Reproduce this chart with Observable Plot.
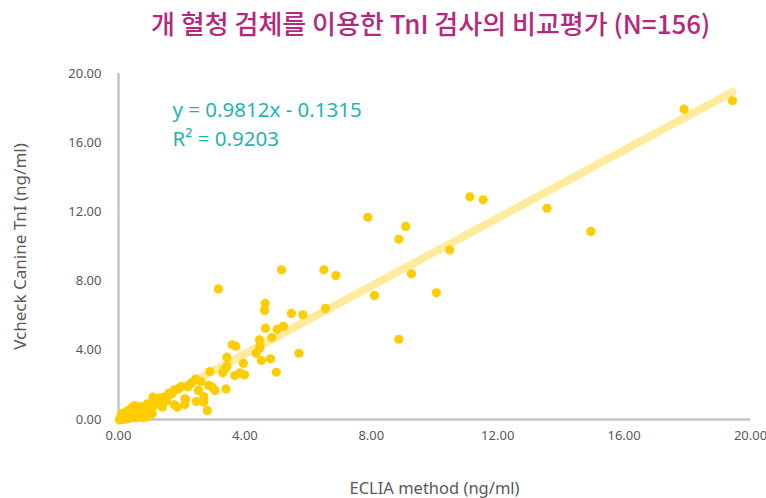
<!DOCTYPE html>
<html>
<head>
<meta charset="utf-8">
<script src="https://cdn.jsdelivr.net/npm/d3@7"></script>
<script src="https://cdn.jsdelivr.net/npm/@observablehq/plot@0.6"></script>
<style>
  html, body { margin: 0; padding: 0; background: #fff; }
  #wrap { width: 766px; height: 498px; position: relative; overflow: hidden; }
  #title { height: 45px; line-height: 46px; padding-left: 151px; font-family: "Noto Sans CJK KR", "Noto Sans", sans-serif; font-size: 26px; font-weight: 500; color: #b5287e; white-space: nowrap; }
</style>
</head>
<body>
<div id="wrap">
  <div id="title"></div>
  <div id="chart"></div>
</div>
<script>
const titleText = "개 혈청 검체를 이용한 TnI 검사의 비교평가 (N=156)";
const xLabel = "ECLIA method (ng/ml)";
const yLabel = "Vcheck Canine TnI (ng/ml)";
const tickValues = [0, 4, 8, 12, 16, 20];
const slope = 0.9812;
const intercept = -0.1315;
const equationLine = "y = 0.9812x - 0.1315";
const r2Line = "R² = 0.9203";

// ECLIA method values (x)
const eclia = [
  19.43, 17.90, 11.12, 11.54, 13.56, 14.95, 7.89, 9.09, 8.87, 10.48,
  9.27, 10.06, 8.10, 8.87, 6.50, 6.88, 5.16, 3.16, 6.55, 4.64,
  4.62, 5.47, 5.83, 4.65, 5.02, 5.22, 4.85, 4.46, 4.48, 4.46,
  4.35, 5.71, 3.60, 3.71, 3.43, 4.52, 4.81, 3.95, 3.43, 3.37,
  3.30, 2.89, 3.68, 3.84, 3.99, 4.99, 3.40, 2.85, 2.97, 3.05,
  2.70, 2.43, 2.53, 2.81, 2.46, 2.10, 2.10, 1.86, 1.77, 1.94,
  1.77, 2.00, 1.59, 1.44, 1.39, 1.39, 1.51, 1.09, 1.09, 0.91,
  1.07, 1.12, 2.70, 2.12, 1.89,
  0.06, 0.10, 0.16, 0.19, 0.25, 0.29, 0.35, 0.38, 0.41, 0.44,
  0.48, 0.51, 0.54, 0.57, 0.60, 0.63, 0.67, 0.70, 0.73, 0.76,
  0.79, 0.82, 0.86, 0.92, 0.03, 0.13, 0.22, 0.32, 0.48, 0.60,
  0.05, 0.08, 0.12, 0.15, 0.20, 0.22, 0.27, 0.30, 0.33, 0.36,
  0.40, 0.42, 0.45, 0.50, 0.52, 0.55, 0.58, 0.62, 0.65, 0.68,
  0.72, 0.75, 0.80, 0.85, 0.90, 0.95, 1.00, 0.18, 0.10, 0.25,
  0.35, 0.45, 0.55, 0.65, 0.70, 0.78, 0.88, 0.12, 0.28, 0.38,
  0.48, 1.20, 1.30, 1.25, 1.60, 1.70, 2.20, 2.30, 2.60, 0.15,
  0.09
];
// Vcheck Canine TnI values (y)
const vcheck = [
  18.42, 17.94, 12.87, 12.70, 12.21, 10.87, 11.69, 11.16, 10.42, 9.80,
  8.42, 7.32, 7.17, 4.64, 8.65, 8.32, 8.65, 7.55, 6.42, 6.71,
  6.30, 6.13, 6.05, 5.28, 5.22, 5.39, 4.74, 4.61, 4.29, 4.12,
  3.83, 3.83, 4.32, 4.24, 3.60, 3.41, 3.51, 3.25, 3.08, 2.91,
  2.70, 2.77, 2.54, 2.70, 2.58, 2.73, 1.77, 1.98, 1.87, 1.68,
  1.33, 2.33, 1.68, 0.52, 1.04, 1.20, 0.87, 0.71, 0.85, 1.83,
  1.72, 1.91, 1.52, 1.29, 1.16, 0.71, 1.06, 1.29, 0.75, 0.91,
  0.33, 1.00, 1.00, 1.16, 1.77,
  0.12, 0.29, 0.06, 0.35, 0.17, 0.46, 0.29, 0.52, 0.17, 0.69,
  0.40, 0.81, 0.58, 0.29, 0.69, 0.46, 0.23, 0.58, 0.35, 0.52,
  0.23, 0.40, 0.23, 0.46, 0.00, 0.02, 0.02, 0.06, 0.12, 0.17,
  0.05, 0.10, 0.15, 0.20, 0.10, 0.25, 0.30, 0.20, 0.40, 0.35,
  0.30, 0.55, 0.45, 0.60, 0.35, 0.70, 0.50, 0.60, 0.40, 0.75,
  0.45, 0.30, 0.55, 0.40, 0.60, 0.35, 0.70, 0.05, 0.00, 0.05,
  0.10, 0.15, 0.10, 0.15, 0.20, 0.10, 0.15, 0.35, 0.50, 0.60,
  0.72, 1.10, 1.25, 0.90, 1.40, 1.50, 1.90, 2.10, 2.20, 0.08,
  0.04
];

document.getElementById("title").textContent = titleText;

const points = eclia.map((x, i) => ({x, y: vcheck[i]}));
const xMin = d3.min(eclia), xMax = d3.max(eclia);
const fitLine = [xMin, xMax].map(x => ({x, y: slope * x + intercept}));

const fontFamily = '"Noto Sans", "Noto Sans CJK KR", sans-serif';
const labelColor = "#595959";
const eqColor = "#1fb5ad";

const chart = Plot.plot({
  width: 766,
  height: 453,
  marginLeft: 118,
  marginRight: 16,
  marginTop: 28,
  marginBottom: 79,
  style: { fontFamily, fontSize: "13px", color: labelColor, background: "#fff" },
  x: { domain: [0, 20], ticks: tickValues, tickFormat: d3.format(".2f"), tickSize: 0, tickPadding: 11, label: null },
  y: { domain: [0, 20], ticks: tickValues, tickFormat: d3.format(".2f"), tickSize: 0, tickPadding: 17, label: null },
  marks: [
    Plot.ruleY([0], { stroke: "#c4c4c4", strokeWidth: 2.5 }),
    Plot.ruleX([0], { stroke: "#c4c4c4", strokeWidth: 2.5 }),
    Plot.line(fitLine, { x: "x", y: "y", stroke: "#ffeb9c", strokeWidth: 8, strokeLinecap: "round" }),
    Plot.dot(points, { x: "x", y: "y", r: 4.6, fill: "#ffcc00", stroke: "none" }),
    Plot.text([equationLine], { text: d => d, frameAnchor: "top-left", dx: 54, dy: 37, lineAnchor: "middle", textAnchor: "start", fill: eqColor, fontSize: 20.5, fontFamily }),
    Plot.text([r2Line], { text: d => d, frameAnchor: "top-left", dx: 54, dy: 66, lineAnchor: "middle", textAnchor: "start", fill: eqColor, fontSize: 20.5, fontFamily }),
    Plot.text([xLabel], { text: d => d, frameAnchor: "bottom", dy: 69, lineAnchor: "middle", textAnchor: "middle", fill: labelColor, fontSize: 16.5, fontFamily }),
    Plot.text([yLabel], { text: d => d, frameAnchor: "left", dx: -98, rotate: -90, lineAnchor: "middle", textAnchor: "middle", fill: labelColor, fontSize: 17, fontFamily })
  ]
});
document.getElementById("chart").appendChild(chart);
</script>
</body>
</html>
